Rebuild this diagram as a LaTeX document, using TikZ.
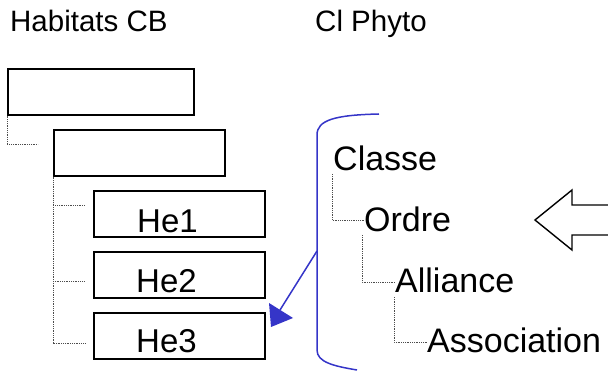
\documentclass[tikz,border=0pt]{standalone}
\usepackage{fontspec}
\setmainfont{Liberation Sans}
\definecolor{bracketblue}{HTML}{3535C8}
\begin{document}
\begin{tikzpicture}[x=1pt,y=-1pt,
  box/.style={draw=black,line width=1.6pt,anchor=north west,inner sep=0pt,
              minimum width=#1,minimum height=46pt},
  title/.style={anchor=base west,inner sep=0pt,font=\fontsize{29.5}{32}\selectfont},
  level/.style={anchor=base west,inner sep=0pt,font=\fontsize{34}{38}\selectfont},
  helabel/.style={anchor=base west,inner sep=0pt,font=\fontsize{33}{36}\selectfont},
  tree/.style={draw=black!70,line width=0.6pt,dash pattern=on 1pt off 0.8pt},
  bluebar/.style={draw=bracketblue,line width=1.5pt}]
\useasboundingbox (0,0) rectangle (608,371);

% column headings
\node[title] (hcb) at (10,32) {Habitats CB};
\node[title] (hcp) at (315,32) {Cl Phyto};

% habitat boxes
\node[box=186pt] (b1) at (7,68) {};
\node[box=171pt] (b2) at (53,129) {};
\node[box=171pt] (he1) at (93,190) {};
\node[box=171pt] (he2) at (93,251) {};
\node[box=171pt] (he3) at (93,312) {};
\node[helabel] (t1) at (137,233) {He1};
\node[helabel] (t2) at (136,293) {He2};
\node[helabel] (t3) at (136,353) {He3};

% habitat tree connectors
\coordinate (c0) at (38,144);
\coordinate (c1) at (85,205);
\coordinate (c2) at (85,281);
\coordinate (c3) at (85,343);
\draw[tree] (b1.south west) |- (c0);
\draw[tree] (b2.south west) |- (c1);
\draw[tree] (b2.south west) |- (c2);
\draw[tree] (b2.south west) |- (c3);

% phytosociological levels
\node[level] (cl) at (333,171) {Classe};
\node[level] (or) at (364,232) {Ordre};
\node[level] (al) at (395,293) {Alliance};
\node[level] (as) at (427,353) {Association};
\draw[tree] ([xshift=-1pt,yshift=-3pt]cl.base west) |- ([yshift=12pt]or.base west);
\draw[tree] ([xshift=-2pt,yshift=-3pt]or.base west) |- ([yshift=11pt]al.base west);
\draw[tree] ([xshift=-1pt,yshift=-4pt]al.base west) |- ([yshift=11pt]as.base west);

% blue bracket around the levels
\coordinate (bt) at (379,114);
\coordinate (bb) at (357,370);
\coordinate (bm) at (317,251);
\draw[bluebar] (bt) .. controls (335,115) and (317,120) .. (317,135)
  -- (317,350) .. controls (317,362) and (333,366) .. (bb);

% blue arrow towards He3
\coordinate (ah) at (280,310);
\draw[bluebar] (bm) -- (ah);
\fill[bracketblue] (269,303) -- (293,318) -- (271,327) -- cycle;

% hollow arrow on the right
\draw[line width=1.4pt,line join=miter] (609,205) -- (572,205) -- (572,190) -- (535,220)
  -- (572,250) -- (572,235) -- (609,235);
\end{tikzpicture}
\end{document}
